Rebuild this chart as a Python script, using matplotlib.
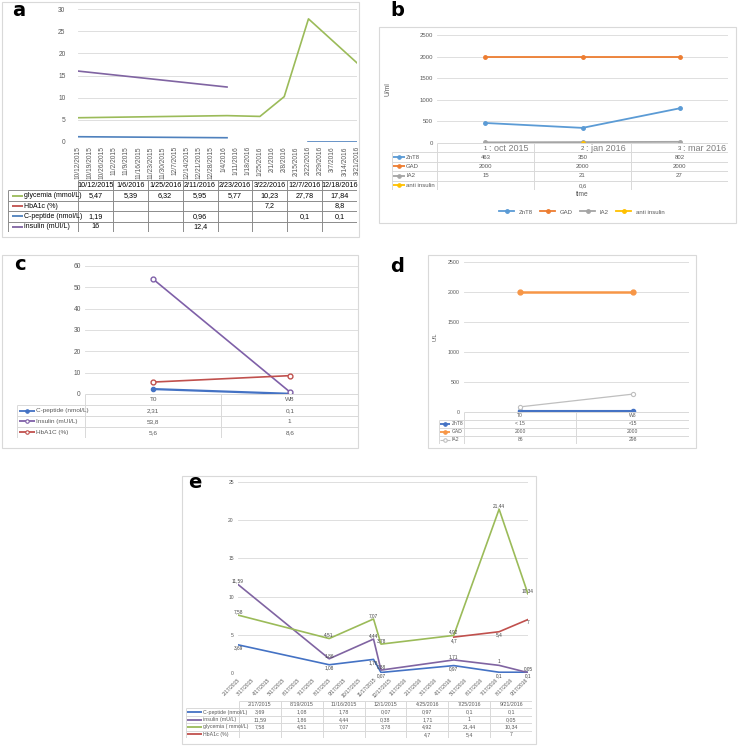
import numpy as np
import matplotlib
matplotlib.use("Agg")
import matplotlib.pyplot as plt
from matplotlib.patches import Rectangle
from datetime import date, timedelta

plt.rcParams['font.family'] = ['Liberation Sans Narrow', 'Liberation Sans', 'DejaVu Sans']

# ---------------- data ----------------
# panel a
a_table_dates = ['10/12/2015', '1/6/2016', '1/25/2016', '2/11/2016',
                 '2/23/2016', '3/22/2016', '12/7/2016', '12/18/2016']
a_labels = ['glycemia (mmol/L)', 'HbA1c (%)', 'C-peptide (nmol/L)', 'insulin (mUI/L)']
a_glyc_table = ['5,47', '5,39', '6,32', '5,95', '5,77', '10,23', '27,78', '17,84']
a_hba1c_table = ['', '', '', '', '', '7,2', '', '8,8']
a_cpep_table = ['1,19', '', '', '0,96', '', '', '0,1', '0,1']
a_ins_table = ['16', '', '', '12,4', '', '', '', '']
a_glyc_dates = [date(2015, 10, 12), date(2016, 1, 6), date(2016, 1, 25),
                date(2016, 2, 8), date(2016, 2, 22), date(2016, 3, 21)]
a_glyc_vals = [5.47, 5.95, 5.77, 10.23, 27.78, 17.84]
a_ins_dates = [date(2015, 10, 12), date(2016, 1, 6)]
a_ins_vals = [16, 12.4]
a_cpep_dates1 = [date(2015, 10, 12), date(2016, 1, 6)]
a_cpep_vals1 = [1.19, 0.96]
a_cpep_dates2 = [date(2016, 2, 22), date(2016, 3, 21)]
a_cpep_vals2 = [0.1, 0.1]

# panel b
b_cats = ['1', '2', '3']
b_catnames = [': oct 2015', ': jan 2016', ': mar 2016']
b_znt8 = [463, 350, 802]
b_gad = [2000, 2000, 2000]
b_ia2 = [15, 21, 27]
b_anti = [np.nan, 0.6, np.nan]
b_labels = ['ZnT8', 'GAD', 'IA2', 'anti insulin']
b_table = [['463', '350', '802'], ['2000', '2000', '2000'],
           ['15', '21', '27'], ['', '0,6', '']]

# panel c
c_cats = ['T0', 'W8']
c_cpep = [2.31, 0.1]
c_ins = [53.8, 1]
c_hba1c = [5.6, 8.6]
c_labels = ['C-peptide (nmol/L)', 'Insulin (mUI/L)', 'HbA1C (%)']
c_table = [['2,31', '0,1'], ['53,8', '1'], ['5,6', '8,6']]

# panel d
d_cats = ['T0', 'W8']
d_znt8 = [15, 15]
d_gad = [2000, 2000]
d_ia2 = [86, 298]
d_labels = ['ZnT8', 'GAD', 'IA2']
d_table = [['< 15', '<15'], ['2000', '2000'], ['86', '298']]

# panel e
e_dates = [date(2015, 2, 17), date(2015, 8, 19), date(2015, 11, 16), date(2015, 12, 1),
           date(2016, 4, 25), date(2016, 7, 25), date(2016, 9, 21)]
e_headers = ['2/17/2015', '8/19/2015', '11/16/2015', '12/1/2015',
             '4/25/2016', '7/25/2016', '9/21/2016']
e_cpep = [3.69, 1.08, 1.78, 0.07, 0.97, 0.1, 0.1]
e_ins = [11.59, 1.86, 4.44, 0.38, 1.71, 1, 0.05]
e_glyc = [7.58, 4.51, 7.07, 3.78, 4.92, 21.44, 10.34]
e_hba1c = [np.nan, np.nan, np.nan, np.nan, 4.7, 5.4, 7]
e_labels = ['C-peptide (nmol/L)', 'insulin (mU/L)', 'glycemia ( mmol/L)', 'HbA1c (%)']

# ---------------- helpers ----------------
W, H = 738, 746
fig = plt.figure(figsize=(W / 100, H / 100), dpi=100)
GRID = '#d9d9d9'
TICK = '#595959'


def box(x0, y0, x1, y1):
    return [x0 / W, 1 - y1 / H, (x1 - x0) / W, (y1 - y0) / H]


def frame(x0, y0, x1, y1):
    fig.patches.append(Rectangle((x0 / W, 1 - y1 / H), (x1 - x0) / W, (y1 - y0) / H,
                                 transform=fig.transFigure, fill=False,
                                 edgecolor='#d9d9d9', lw=0.8))


def style_axes(ax, fs):
    for s in ax.spines.values():
        s.set_visible(False)
    ax.grid(axis='y', color=GRID, lw=0.6)
    ax.set_axisbelow(True)
    ax.tick_params(length=0, labelsize=fs, colors=TICK, pad=3)


def fmt(v):
    return ('%g' % v).replace('.', ',')


def draw_table(ax, headers, labels, cells, colors, lw_frac, sw, fs, line_color,
               text_color, markers=None, mfcs=None, header_fs=None,
               header_color=None, lws=None, label_fs=None):
    n = len(labels)
    nc = len(headers)
    ax.set_xlim(0, 1)
    ax.set_ylim(n + 1, 0)
    ax.axis('off')
    cw = (1 - lw_frac) / nc
    ax.hlines(0, lw_frac, 1, color=line_color, lw=0.7)
    ax.hlines(np.arange(1, n + 2), 0, 1, color=line_color, lw=0.7)
    ax.vlines(0, 1, n + 1, color=line_color, lw=0.7)
    ax.vlines(lw_frac + np.arange(nc + 1) * cw, 0, n + 1, color=line_color, lw=0.7)
    for j, h in enumerate(headers):
        if h:
            ax.text(lw_frac + (j + 0.5) * cw, 0.5, h, ha='center', va='center',
                    fontsize=header_fs or fs, color=header_color or text_color)
    for i, lab in enumerate(labels):
        y = i + 1.5
        m = markers[i] if markers else None
        mfc = mfcs[i] if mfcs else colors[i]
        ax.plot([sw[0], sw[1]], [y, y], color=colors[i], lw=(lws[i] if lws else 1.3),
                solid_capstyle='butt')
        if m:
            ax.plot([(sw[0] + sw[1]) / 2], [y], marker=m, ms=2.5, color=colors[i],
                    mfc=mfc, mew=0.8, ls='none')
        ax.text(sw[2], y, lab, ha='left', va='center', fontsize=label_fs or fs,
                color=text_color)
        for j, c in enumerate(cells[i]):
            if c:
                ax.text(lw_frac + (j + 0.5) * cw, y, c, ha='center', va='center',
                        fontsize=fs, color=text_color)


# ---------------- panel a ----------------
frame(2, 2, 359, 237)
ax = fig.add_axes(box(78, 9, 357, 142))
style_axes(ax, 4.8)
start_a = date(2015, 10, 12)
ticks_a = [start_a + timedelta(days=7 * k) for k in range(24)]
ax.plot(a_glyc_dates, a_glyc_vals, color='#9BBB59', lw=1.2)
ax.plot(a_ins_dates, a_ins_vals, color='#8064A2', lw=1.2)
ax.plot(a_cpep_dates1, a_cpep_vals1, color='#4F81BD', lw=1.2)
ax.plot(a_cpep_dates2, a_cpep_vals2, color='#4F81BD', lw=1.2)
ax.set_xlim(ticks_a[0], ticks_a[-1])
ax.set_ylim(0, 30)
ax.set_yticks(range(0, 31, 5))
ax.set_xticks(ticks_a)
ax.set_xticklabels([f'{d.month}/{d.day}/{d.year}' for d in ticks_a], rotation=90,
                   fontsize=4.8)
ax.tick_params(axis='y', pad=9)
ax_t = fig.add_axes(box(8, 180, 357, 232))
draw_table(ax_t, a_table_dates, a_labels,
           [a_glyc_table, a_hba1c_table, a_cpep_table, a_ins_table],
           ['#9BBB59', '#C0504D', '#4F81BD', '#8064A2'], 70 / 349,
           (0.011, 0.043, 0.047), 5.2, '#8c8c8c', 'black', header_fs=5.2, label_fs=5)
fig.text(19 / W, 1 - 10 / H, 'a', fontsize=14, fontweight='bold', ha='center', va='center',
         family='DejaVu Sans')

# ---------------- panel b ----------------
frame(379, 27, 736, 223)
ax = fig.add_axes(box(437, 35, 728, 143))
style_axes(ax, 4.3)
xb = np.arange(3)
b_colors = ['#5B9BD5', '#ED7D31', '#A5A5A5', '#FFC000']
for vals, col, lab in zip([b_znt8, b_gad, b_ia2, b_anti], b_colors, b_labels):
    ax.plot(xb, vals, color=col, lw=1.3, marker='o', ms=2.5, label=lab)
ax.set_xlim(-0.5, 2.5)
ax.set_ylim(0, 2500)
ax.set_yticks(range(0, 2501, 500))
ax.set_xticks([])
ax.set_ylabel('U/ml', fontsize=4.8, color=TICK)
ax.yaxis.set_label_coords(-45 / 291, 0.5)
handles, labels = ax.get_legend_handles_labels()
ax_t = fig.add_axes(box(392, 143, 728, 190))
draw_table(ax_t, [None] * 3, b_labels, b_table, b_colors, 45 / 336,
           (0.003, 0.039, 0.042), 4.3, GRID, TICK, markers=['o'] * 4)
cw = (1 - 45 / 336) / 3
for j in range(3):
    cx = 45 / 336 + (j + 0.5) * cw
    ax_t.text(cx, 0.55, b_cats[j], ha='center', va='center', fontsize=4.3, color=TICK)
    ax_t.annotate(b_catnames[j], xy=(cx, 0.55), xytext=(2.5, 0), textcoords='offset points',
                  ha='left', va='center', fontsize=6.5, color='#7f7f7f')
fig.text(582 / W, 1 - 195 / H, 'time', fontsize=4.8, color=TICK, ha='center', va='center')
fig.legend(handles, labels, loc='center', bbox_to_anchor=(582 / W, 1 - 212 / H), ncol=4,
           frameon=False, fontsize=4.3, handlelength=2.5, columnspacing=1.2,
           labelcolor=TICK, markerscale=1)
fig.text(397 / W, 1 - 11 / H, 'b', fontsize=14, fontweight='bold', ha='center', va='center',
         family='DejaVu Sans')

# ---------------- panel c ----------------
frame(2, 255, 358, 448)
ax = fig.add_axes(box(85, 266, 358, 394))
style_axes(ax, 4.8)
xc = np.arange(2)
ax.plot(xc, c_cpep, color='#4472C4', lw=1.6, marker='o', ms=3)
ax.plot(xc, c_ins, color='#7F60A8', lw=1.2, marker='o', ms=3.5, mfc='white', mew=1)
ax.plot(xc, c_hba1c, color='#C0504D', lw=1.2, marker='o', ms=3.5, mfc='white', mew=1)
ax.set_xlim(-0.5, 1.5)
ax.set_ylim(0, 60)
ax.set_yticks(range(0, 61, 10))
ax.set_xticks([])
ax_t = fig.add_axes(box(17, 394, 358, 438))
draw_table(ax_t, c_cats, c_labels, c_table, ['#4472C4', '#7F60A8', '#C0504D'], 68 / 341,
           (0.006, 0.053, 0.056), 4.6, GRID, TICK, markers=['o', 'o', 'o'],
           mfcs=['#4472C4', 'white', 'white'])
fig.text(20 / W, 1 - 265 / H, 'c', fontsize=14, fontweight='bold', ha='center', va='center',
         family='DejaVu Sans')

# ---------------- panel d ----------------
frame(428, 255, 696, 448)
ax = fig.add_axes(box(464, 262, 689, 412))
style_axes(ax, 3.8)
xd = np.arange(2)
ax.plot(xd, d_znt8, color='#4472C4', lw=1.5, marker='o', ms=3)
ax.plot(xd, d_gad, color='#F79646', lw=1.8, marker='o', ms=3.5)
ax.plot(xd, d_ia2, color='#BFBFBF', lw=0.9, marker='o', ms=3, mfc='white', mew=0.8)
ax.set_xlim(-0.5, 1.5)
ax.set_ylim(0, 2500)
ax.set_yticks(range(0, 2501, 500))
ax.set_xticks([])
ax.set_ylabel('U/L', fontsize=4, color=TICK)
ax.yaxis.set_label_coords(-26 / 225, 0.5)
ax_t = fig.add_axes(box(439, 412, 689, 444))
draw_table(ax_t, d_cats, d_labels, d_table, ['#4472C4', '#F79646', '#BFBFBF'], 25 / 250,
           (0.004, 0.044, 0.052), 3.6, GRID, TICK, markers=['o', 'o', 'o'],
           mfcs=['#4472C4', '#F79646', 'white'], lws=[1.3, 1.3, 0.8])
fig.text(397 / W, 1 - 266 / H, 'd', fontsize=14, fontweight='bold', ha='center', va='center',
         family='DejaVu Sans')

# ---------------- panel e ----------------
frame(182, 476, 536, 744)
ax = fig.add_axes(box(238, 482, 528, 673))
style_axes(ax, 3.6)
e_colors = ['#4472C4', '#8064A2', '#9BBB59', '#C0504D']
e_offsets = [-2.5, 2.5, 2.5, -2.5]  # label nudge (points) per series
for vals, col, off in zip([e_cpep, e_ins, e_glyc, e_hba1c], e_colors, e_offsets):
    ax.plot(e_dates, vals, color=col, lw=1.2)
    for d, v in zip(e_dates, vals):
        if not np.isnan(v):
            ax.annotate(fmt(v), xy=(d, v), xytext=(0, off), textcoords='offset points',
                        ha='center', va='center', fontsize=3.4, color='#404040')
ticks_e = [date(2015 + (1 + k) // 12, (1 + k) % 12 + 1, 17) for k in range(20)]
ax.set_xlim(e_dates[0], e_dates[-1])
ax.set_ylim(0, 25)
ax.set_yticks(range(0, 26, 5))
ax.set_xticks(ticks_e)
ax.set_xticklabels([f'{d.month}/{d.day}/{d.year}' for d in ticks_e], rotation=45,
                   ha='right', rotation_mode='anchor', fontsize=3.6)
ax_t = fig.add_axes(box(186, 701, 532, 738))
draw_table(ax_t, e_headers, e_labels,
           [[fmt(v) for v in e_cpep], [fmt(v) for v in e_ins], [fmt(v) for v in e_glyc],
            [('' if np.isnan(v) else fmt(v)) for v in e_hba1c]],
           e_colors, 53 / 346, (0.003, 0.046, 0.049), 3.8, GRID, TICK)
fig.text(195 / W, 1 - 482 / H, 'e', fontsize=14, fontweight='bold', ha='center', va='center',
         family='DejaVu Sans')

fig.savefig('out.png', dpi=100)
